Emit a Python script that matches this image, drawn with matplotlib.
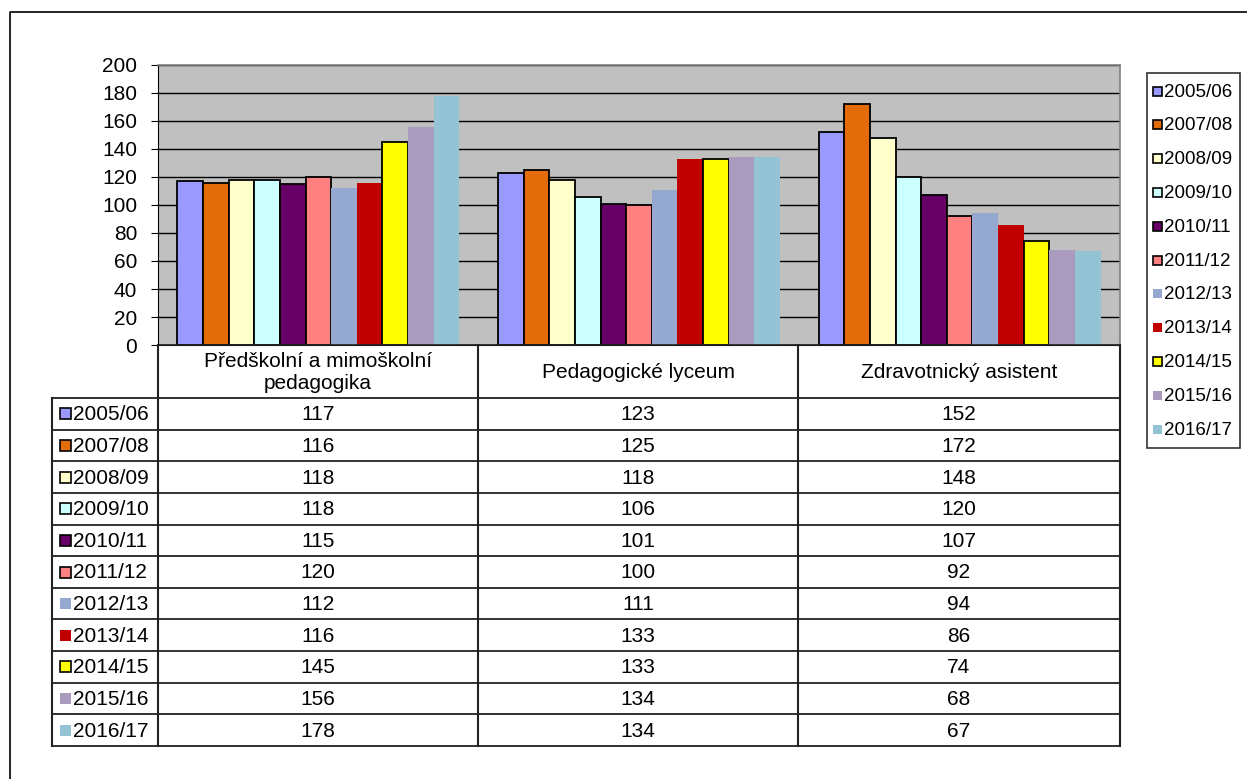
import matplotlib.pyplot as plt
import numpy as np
from matplotlib.patches import Rectangle

plt.rcParams['font.family'] = ['Liberation Sans', 'DejaVu Sans']

# data
categories = ["Předškolní a mimoškolní\npedagogika", "Pedagogické lyceum", "Zdravotnický asistent"]
years = ["2005/06", "2007/08", "2008/09", "2009/10", "2010/11", "2011/12",
         "2012/13", "2013/14", "2014/15", "2015/16", "2016/17"]
values = {
    "2005/06": [117, 123, 152],
    "2007/08": [116, 125, 172],
    "2008/09": [118, 118, 148],
    "2009/10": [118, 106, 120],
    "2010/11": [115, 101, 107],
    "2011/12": [120, 100, 92],
    "2012/13": [112, 111, 94],
    "2013/14": [116, 133, 86],
    "2014/15": [145, 133, 74],
    "2015/16": [156, 134, 68],
    "2016/17": [178, 134, 67],
}
colors = ["#9999FF", "#E36C09", "#FFFFCC", "#CCFFFF", "#660066", "#FF8080",
          "#95A9D0", "#C00000", "#FFFF00", "#A99BBD", "#93C3D4"]
edged = [True, True, True, True, True, True, False, False, True, False, False]

W, H = 1247, 779
fig = plt.figure(figsize=(W / 100, H / 100), dpi=100)


def px(x0, y0, x1, y1):
    return [x0 / W, 1 - y1 / H, (x1 - x0) / W, (y1 - y0) / H]


# chart area
ax = fig.add_axes(px(158, 65, 1120, 345))
ax.set_facecolor("#C0C0C0")
n = len(years)
bw = 0.08
x = np.arange(len(categories))
for i, yr in enumerate(years):
    offs = (i - (n - 1) / 2) * bw
    ax.bar(x + offs, values[yr], bw, color=colors[i],
           edgecolor="black" if edged[i] else colors[i],
           linewidth=1.3 if edged[i] else 0, zorder=3)
ax.set_xlim(-0.5, len(categories) - 0.5)
ax.set_ylim(0, 200)
ax.set_yticks(range(0, 201, 20))
ax.yaxis.grid(True, color="black", linewidth=1, zorder=0)
ax.set_axisbelow(True)
ax.set_xticks([])
ax.tick_params(axis="y", labelsize=15, length=5, color="black", pad=10)
for s in ["top", "right"]:
    ax.spines[s].set_color("#808080")
    ax.spines[s].set_linewidth(1.2)
ax.spines["left"].set_color("black")
ax.spines["bottom"].set_color("black")

# overlay for table, legend and frame (pixel coordinates)
ov = fig.add_axes([0, 0, 1, 1], facecolor="none")
ov.set_xlim(0, W)
ov.set_ylim(H, 0)
ov.axis("off")

# outer frame
ov.plot([10, 10, W + 5], [H + 5, 12, 12], color="black", lw=1.2)

# table
col_x = [52, 158, 478, 798, 1120]
head_top, head_bot = 345, 398
row_h = (746 - 398) / n
row_y = [head_bot + k * row_h for k in range(n + 1)]
lc = "#222222"
ov.plot([col_x[1], col_x[-1]], [head_top, head_top], color=lc, lw=1.2)
for cx in col_x[1:]:
    ov.plot([cx, cx], [head_top, row_y[-1]], color=lc, lw=1.5)
ov.plot([col_x[0], col_x[0]], [row_y[0], row_y[-1]], color=lc, lw=1.5)
for ry in row_y:
    ov.plot([col_x[0], col_x[-1]], [ry, ry], color=lc, lw=1.3)
for j, cat in enumerate(categories):
    ov.text((col_x[j + 1] + col_x[j + 2]) / 2, (head_top + head_bot) / 2 + 1, cat,
            ha="center", va="center", fontsize=15, linespacing=1.2)
for i, yr in enumerate(years):
    cy = (row_y[i] + row_y[i + 1]) / 2
    ov.add_patch(Rectangle((60, cy - 5.5), 11, 11, facecolor=colors[i],
                           edgecolor="black" if edged[i] else colors[i],
                           lw=1.2 if edged[i] else 0))
    ov.text(73, cy + 1, yr, ha="left", va="center", fontsize=15)
    for j, v in enumerate(values[yr]):
        ov.text((col_x[j + 1] + col_x[j + 2]) / 2, cy + 1, str(v),
                ha="center", va="center", fontsize=15)

# legend
ov.add_patch(Rectangle((1147, 73), 93, 375, facecolor="white",
                       edgecolor="#333333", lw=1.2))
for i, yr in enumerate(years):
    cy = 91 + i * 33.8
    ov.add_patch(Rectangle((1153, cy - 4.5), 9, 9, facecolor=colors[i],
                           edgecolor="black" if edged[i] else colors[i],
                           lw=1.2 if edged[i] else 0))
    ov.text(1164, cy + 1, yr, ha="left", va="center", fontsize=13.5)

fig.savefig("out.png", dpi=100)
